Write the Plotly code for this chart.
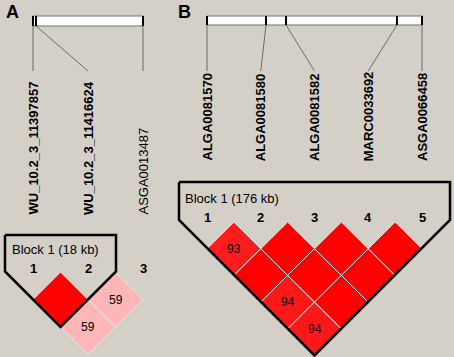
import plotly.graph_objects as go

# ---------------- data ----------------
# Panel A
a_markers = ["WU_10.2_3_11397857", "WU_10.2_3_11416624", "ASGA0013487"]
a_pos_kb = [11397.857, 11416.624, 12088.0]
a_in_block = [True, True, False]
a_block_label = "Block 1 (18 kb)"
a_block_members = [1, 2]
a_pairs = [(1, 2), (1, 3), (2, 3)]
a_dprime = [100, 59, 59]
a_strong = [True, False, False]   # LOD >= 2

# Panel B
b_markers = ["ALGA0081570", "ALGA0081580", "ALGA0081582", "MARC0033692", "ASGA0066458"]
b_pos_kb = [0.0, 48.3, 64.7, 155.5, 176.0]
b_in_block = [True, True, True, True, True]
b_block_label = "Block 1 (176 kb)"
b_block_members = [1, 2, 3, 4, 5]
b_pairs = [(1, 2), (1, 3), (1, 4), (1, 5), (2, 3), (2, 4), (2, 5), (3, 4), (3, 5), (4, 5)]
b_dprime = [93, 100, 94, 94, 100, 100, 100, 100, 100, 100]
b_strong = [True] * 10

# ---------------- style / layout ----------------
W, H = 454, 357
BG = "#D4D0C8"
FONT = "Liberation Sans, Arial, sans-serif"

panels = [
    dict(name="A", letter_xy=(12, 12), markers=a_markers, pos=a_pos_kb, inblock=a_in_block,
         block_label=a_block_label, members=a_block_members, pairs=a_pairs, dp=a_dprime, strong=a_strong,
         bar=(33, 143, 16, 26), lab_x0=33, spacing=55, line_end=71, lab_bottom=217,
         block_top=235, block_text_y=249, block_text_x=10, num_y=268, dia_top=272, hv=27.5, pad=28),
    dict(name="B", letter_xy=(184, 12), markers=b_markers, pos=b_pos_kb, inblock=b_in_block,
         block_label=b_block_label, members=b_block_members, pairs=b_pairs, dp=b_dprime, strong=b_strong,
         bar=(207, 422, 16, 25), lab_x0=207, spacing=53.75, line_end=71, lab_bottom=163,
         block_top=182, block_text_y=198, block_text_x=183, num_y=217, dia_top=222, hv=26.7, pad=28),
]


def ld_color(d, strong):
    if not strong:
        return "rgb(255,182,182)"
    v = int(round((100 - d) * 4))
    return f"rgb(255,{v},{v})"


fig = go.Figure()
annotations = []

for p in panels:
    bx0, bx1, by0, by1 = p["bar"]
    pmin, pmax = min(p["pos"]), max(p["pos"])
    tick_x = [bx0 + (v - pmin) / (pmax - pmin) * (bx1 - bx0) for v in p["pos"]]
    lab_x = [p["lab_x0"] + i * p["spacing"] for i in range(len(p["markers"]))]

    # chromosome bar
    fig.add_trace(go.Scatter(x=[bx0, bx1, bx1, bx0, bx0], y=[by0, by0, by1, by1, by0],
                             mode="lines", fill="toself", fillcolor="white",
                             line=dict(color="#707070", width=1), hoverinfo="skip", showlegend=False))
    # ticks on bar
    for tx in tick_x:
        fig.add_trace(go.Scatter(x=[tx, tx], y=[by0, by1], mode="lines",
                                 line=dict(color="black", width=2), hoverinfo="skip", showlegend=False))
    # connector lines
    for tx, lx in zip(tick_x, lab_x):
        fig.add_trace(go.Scatter(x=[tx, lx], y=[by1, p["line_end"]], mode="lines",
                                 line=dict(color="#6a6a6a", width=1), hoverinfo="skip", showlegend=False))
    # marker names (rotated)
    for name, lx, ib in zip(p["markers"], lab_x, p["inblock"]):
        annotations.append(dict(x=lx, y=p["lab_bottom"], xref="x", yref="y", text=f"<b>{name}</b>" if ib else name,
                                textangle=-90, showarrow=False, xanchor="center", yanchor="bottom",
                                font=dict(family=FONT, size=13, color="black")))
    # panel letter
    annotations.append(dict(x=p["letter_xy"][0], y=p["letter_xy"][1], xref="x", yref="y",
                            text=f"<b>{p['name']}</b>", showarrow=False,
                            font=dict(family=FONT, size=18, color="black")))

    # LD diamonds
    hh = p["spacing"] / 2
    hv = p["hv"]
    for (i, j), d, s in zip(p["pairs"], p["dp"], p["strong"]):
        cx = (lab_x[i - 1] + lab_x[j - 1]) / 2
        cy = p["dia_top"] + (j - i) * hv
        fig.add_trace(go.Scatter(x=[cx, cx + hh, cx, cx - hh, cx], y=[cy - hv, cy, cy + hv, cy, cy - hv],
                                 mode="lines", fill="toself", fillcolor=ld_color(d, s),
                                 line=dict(color="#D6F0F0", width=1), hoverinfo="skip", showlegend=False))
        if d < 100:
            annotations.append(dict(x=cx, y=cy, xref="x", yref="y", text=str(d), showarrow=False,
                                    font=dict(family=FONT, size=12, color="black")))

    # marker numbers
    for k, lx in enumerate(lab_x):
        annotations.append(dict(x=lx, y=p["num_y"], xref="x", yref="y", text=f"<b>{k + 1}</b>",
                                showarrow=False, font=dict(family=FONT, size=13, color="black")))

    # block outline
    m0, m1 = p["members"][0], p["members"][-1]
    xl = lab_x[m0 - 1] - p["pad"]
    xr = lab_x[m1 - 1] + p["pad"]
    xc = (lab_x[m0 - 1] + lab_x[m1 - 1]) / 2
    yb = p["dia_top"] + (m1 - m0 + 1) * hv
    yl = yb - (xc - xl)
    yr = yb - (xr - xc)
    fig.add_trace(go.Scatter(x=[xl, xl, xc, xr, xr, xl], y=[p["block_top"], yl, yb, yr, p["block_top"], p["block_top"]],
                             mode="lines", line=dict(color="black", width=2.5), hoverinfo="skip", showlegend=False))
    annotations.append(dict(x=p["block_text_x"], y=p["block_text_y"], xref="x", yref="y", text=p["block_label"],
                            showarrow=False, xanchor="left",
                            font=dict(family=FONT, size=13, color="black")))

fig.update_layout(
    width=W, height=H, margin=dict(l=0, r=0, t=0, b=0),
    paper_bgcolor=BG, plot_bgcolor=BG,
    xaxis=dict(range=[0, W], visible=False, fixedrange=True),
    yaxis=dict(range=[H, 0], visible=False, fixedrange=True),
    annotations=annotations, showlegend=False,
)
fig.write_html("out.html", config={"displayModeBar": False},
               post_script="document.body.style.margin='0';document.body.style.overflow='hidden';")
